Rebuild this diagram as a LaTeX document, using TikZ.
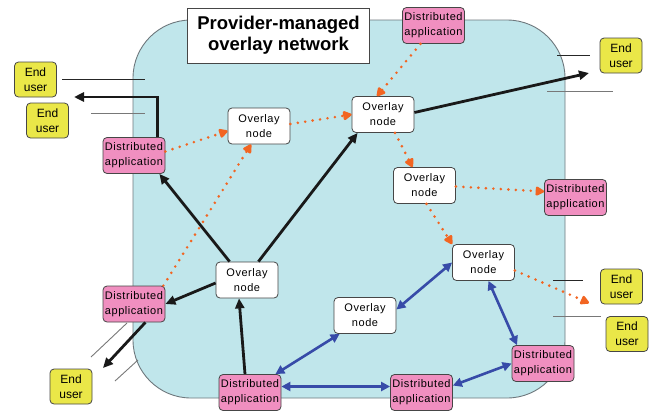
\documentclass[tikz,border=0pt]{standalone}
\usepackage{fontspec}
\setmainfont{Liberation Sans}
\newfontfamily\boxfont[LetterSpace=5]{Liberation Sans}
\usetikzlibrary{arrows.meta}

\definecolor{cloudfill}{RGB}{192,230,235}
\definecolor{cloudedge}{RGB}{110,120,125}
\definecolor{appfill}{RGB}{240,143,192}
\definecolor{userfill}{RGB}{234,231,72}
\definecolor{boxedge}{RGB}{70,70,70}
\definecolor{flowor}{RGB}{242,101,34}
\definecolor{linkblue}{RGB}{55,75,168}
\definecolor{tickgray}{RGB}{120,120,120}

\tikzset{
  basebox/.style={draw=boxedge, line width=0.8pt, rounded corners=4pt,
    align=center, inner sep=0pt},
  ovnode/.style={basebox, fill=white, minimum width=62pt, minimum height=36pt,
    font=\boxfont\fontsize{11}{15}\selectfont},
  appnode/.style={basebox, fill=appfill, minimum width=62pt, minimum height=36pt,
    font=\boxfont\fontsize{11}{15}\selectfont},
  usernode/.style={basebox, fill=userfill, minimum width=42pt, minimum height=35pt,
    font=\fontsize{12}{15}\selectfont},
  titlenode/.style={draw=boxedge, line width=0.8pt, fill=white, align=center,
    minimum width=182pt, minimum height=55pt, inner sep=0pt,
    font=\bfseries\fontsize{18.5}{21}\selectfont},
  solidarrow/.style={draw=black!90, line width=2.8pt,
    -{Triangle[length=10pt,width=9pt]}},
  dotarrow/.style={draw=flowor, line width=2.9pt, line cap=round,
    dash pattern=on 0pt off 7.5pt,
    -{Triangle[length=10pt,width=10pt,round=false]}},
  linkarrow/.style={draw=linkblue, line width=2.6pt,
    {Triangle[length=9pt,width=9pt]}-{Triangle[length=9pt,width=9pt]}},
  thintick/.style={draw=black!85, line width=0.7pt},
  graytick/.style={draw=tickgray, line width=0.9pt},
}

\begin{document}
\begin{tikzpicture}[x=1pt,y=-1pt]
\useasboundingbox (0,0) rectangle (650,410);

% provider network region
\draw[fill=cloudfill, draw=cloudedge, line width=0.9pt, rounded corners=58pt]
  (133,20) rectangle (565,398);

% boundary tick lines where traffic leaves the network
\draw[thintick] (62,79) -- (145,79);
\draw[graytick] (91,113) -- (145,113);
\draw[thintick] (557,55) -- (590,55);
\draw[graytick] (547,91) -- (613,91);
\draw[thintick] (553,280) -- (583,280);
\draw[graytick] (553,316) -- (601,316);
\draw[graytick] (91,357) -- (127,323);
\draw[graytick] (115,381) -- (138,360);

% title
\node[titlenode] (title) at (278.5,35.5) {Provider-managed\\overlay network};

% overlay nodes
\node[ovnode] (on1) at (259,126) {Overlay\\node};
\node[ovnode] (on2) at (383,114.5) {Overlay\\node};
\node[ovnode] (on3) at (424.5,185.5) {Overlay\\node};
\node[ovnode] (on4) at (483.5,262.5) {Overlay\\node};
\node[ovnode] (on5) at (247,280) {Overlay\\node};
\node[ovnode] (on6) at (365,315.5) {Overlay\\node};

% distributed applications
\node[appnode] (da1) at (134,155.5) {Distributed\\application};
\node[appnode] (da2) at (433.5,25.5) {Distributed\\application};
\node[appnode] (da3) at (575.5,197.5) {Distributed\\application};
\node[appnode] (da4) at (134,304) {Distributed\\application};
\node[appnode] (da5) at (250,392.5) {Distributed\\application};
\node[appnode] (da6) at (421.5,392.5) {Distributed\\application};
\node[appnode] (da7) at (543,363.5) {Distributed\\application};

% end users
\node[usernode] (eu1) at (35.5,79.5) {End\\user};
\node[usernode] (eu2) at (47.5,120.5) {End\\user};
\node[usernode] (eu3) at (621,55.5) {End\\user};
\node[usernode] (eu4) at (621.5,286.5) {End\\user};
\node[usernode] (eu5) at (627,334) {End\\user};
\node[usernode] (eu6) at (71,386.5) {End\\user};

% free ends of connectors heading out to users
\coordinate (outA) at (74,97);
\coordinate (outB) at (589,73);
\coordinate (outC) at (589,303);
\coordinate (outD) at (103,368);

% solid delivery paths
\draw[solidarrow] ([xshift=14pt]on5.north west) -- ([xshift=-6pt]da1.south east);
\draw[solidarrow] ([xshift=-20pt]on5.north east) -- ([xshift=6pt]on2.south west);
\draw[solidarrow] ([yshift=-3pt]on5.west) -- (da4.east);
\draw[solidarrow] ([xshift=-5pt]da5.north) -- ([xshift=-8pt]on5.south);
\draw[solidarrow] ([xshift=-20pt]da4.south east) -- (outD);
\draw[solidarrow] ([xshift=-8pt]da1.north east) |- (outA);
\draw[solidarrow] ([yshift=2pt]on2.east) -- (outB);

% dotted overlay flows
\draw[dotarrow] ([yshift=4pt]da1.east) -- ([yshift=-5pt]on1.west);
\draw[dotarrow] ([yshift=2pt]on1.east) -- (on2.west);
\draw[dotarrow] ([xshift=-13pt]da2.south) -- ([xshift=-6pt]on2.north);
\draw[dotarrow] ([xshift=12pt]on2.south) -- ([xshift=-12pt]on3.north);
\draw[dotarrow] ([yshift=-1pt]on3.east) -- ([yshift=6pt]da3.west);
\draw[dotarrow] ([xshift=2pt]on3.south) -- (on4.north west);
\draw[dotarrow] ([yshift=-8pt]on4.east) -- (outC);
\draw[dotarrow] ([xshift=-2pt]da4.north east) -- ([xshift=-8pt]on1.south);

% two-way links
\draw[linkarrow] ([xshift=6pt]on6.south west) -- ([xshift=-6pt]da5.north east);
\draw[linkarrow] ([yshift=6pt]da5.east) -- ([yshift=6pt]da6.west);
\draw[linkarrow] ([yshift=6pt]on6.east) -- (on4.west);
\draw[linkarrow] ([xshift=5pt]on4.south) -- ([xshift=-26pt]da7.north);
\draw[linkarrow] ([yshift=7pt]da6.east) -- (da7.west);
\end{tikzpicture}
\end{document}
